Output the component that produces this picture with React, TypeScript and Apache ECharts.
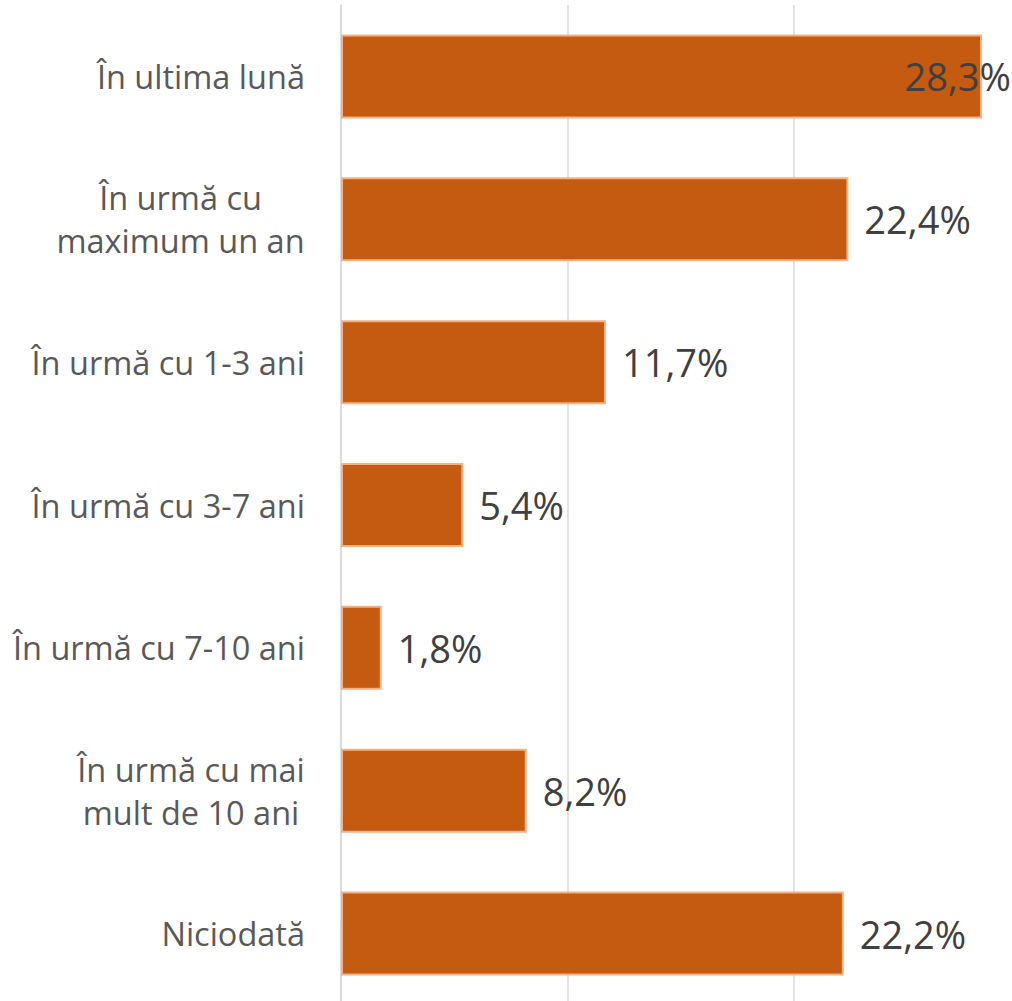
import React, { useEffect, useRef } from "react";
import * as echarts from "echarts";

const categories = [
  "În ultima lună",
  "În urmă cu\nmaximum un an",
  "În urmă cu 1-3 ani",
  "În urmă cu 3-7 ani",
  "În urmă cu 7-10 ani",
  "În urmă cu mai\nmult de 10 ani",
  "Niciodată",
];
const values = [28.3, 22.4, 11.7, 5.4, 1.8, 8.2, 22.2];
const xTicks = [0, 10, 20, 30];

const FONT = '"Open Sans", sans-serif';
const CAT_SIZE = 32.5;
const VAL_SIZE = 38;

function measure(text: string, size: number): number {
  const c = document.createElement("canvas");
  const ctx = c.getContext("2d")!;
  ctx.font = `${size}px "Open Sans"`;
  return ctx.measureText(text).width;
}

export default function App() {
  const ref = useRef<HTMLDivElement>(null);
  useEffect(() => {
    if (!ref.current) return;
    const chart = echarts.init(ref.current, undefined, { renderer: "svg" });
    const rich: Record<string, any> = {};
    const keyOf: Record<string, string> = {};
    categories.forEach((cat, i) => {
      if (cat.includes("\n")) {
        const w = Math.max(...cat.split("\n").map((l) => measure(l, CAT_SIZE)));
        const k = "m" + i;
        keyOf[cat] = k;
        rich[k] = {
          width: Math.ceil(w),
          align: "center",
          fontSize: CAT_SIZE,
          fontFamily: FONT,
          color: "#595959",
          lineHeight: 43,
        };
      }
    });
    chart.setOption({
      animation: false,
      grid: {
        left: 341,
        top: 5,
        right: -8.5,
        bottom: -4,
        containLabel: false,
        outerBoundsMode: "none",
      },
      xAxis: {
        type: "value",
        min: xTicks[0],
        max: xTicks[xTicks.length - 1],
        interval: 10,
        axisLabel: { show: false },
        axisTick: { show: false },
        axisLine: { show: false },
        splitLine: { show: true, lineStyle: { color: "#D9D9D9", width: 1.5 } },
      },
      yAxis: {
        type: "category",
        data: categories,
        inverse: true,
        axisTick: { show: false },
        axisLine: { show: true, lineStyle: { color: "#D9D9D9", width: 1.5 } },
        axisLabel: {
          margin: 36,
          fontSize: CAT_SIZE,
          fontFamily: FONT,
          color: "#595959",
          lineHeight: 43,
          formatter: (v: string) => {
            const k = keyOf[v];
            if (!k) return v;
            return v
              .split("\n")
              .map((l) => `{${k}|${l}}`)
              .join("\n");
          },
          rich,
        },
      },
      series: [
        {
          type: "bar",
          data: values.map((v, i) =>
            i === 0
              ? { value: v, label: { position: "insideRight", distance: 0, offset: [29, 0] } }
              : v
          ),
          barWidth: 84,
          itemStyle: { color: "#C55A11", borderColor: "#F4B183", borderWidth: 2 },
          label: {
            show: true,
            position: "right",
            distance: 16,
            fontSize: VAL_SIZE,
            fontFamily: FONT,
            color: "#404040",
            formatter: (p: any) => p.value.toFixed(1).replace(".", ",") + "%",
          },
        },
      ],
    });
    return () => chart.dispose();
  }, []);
  return (
    <div
      ref={ref}
      style={{ position: "absolute", left: 0, top: 0, width: 1012, height: 1001, background: "#fff" }}
    />
  );
}
